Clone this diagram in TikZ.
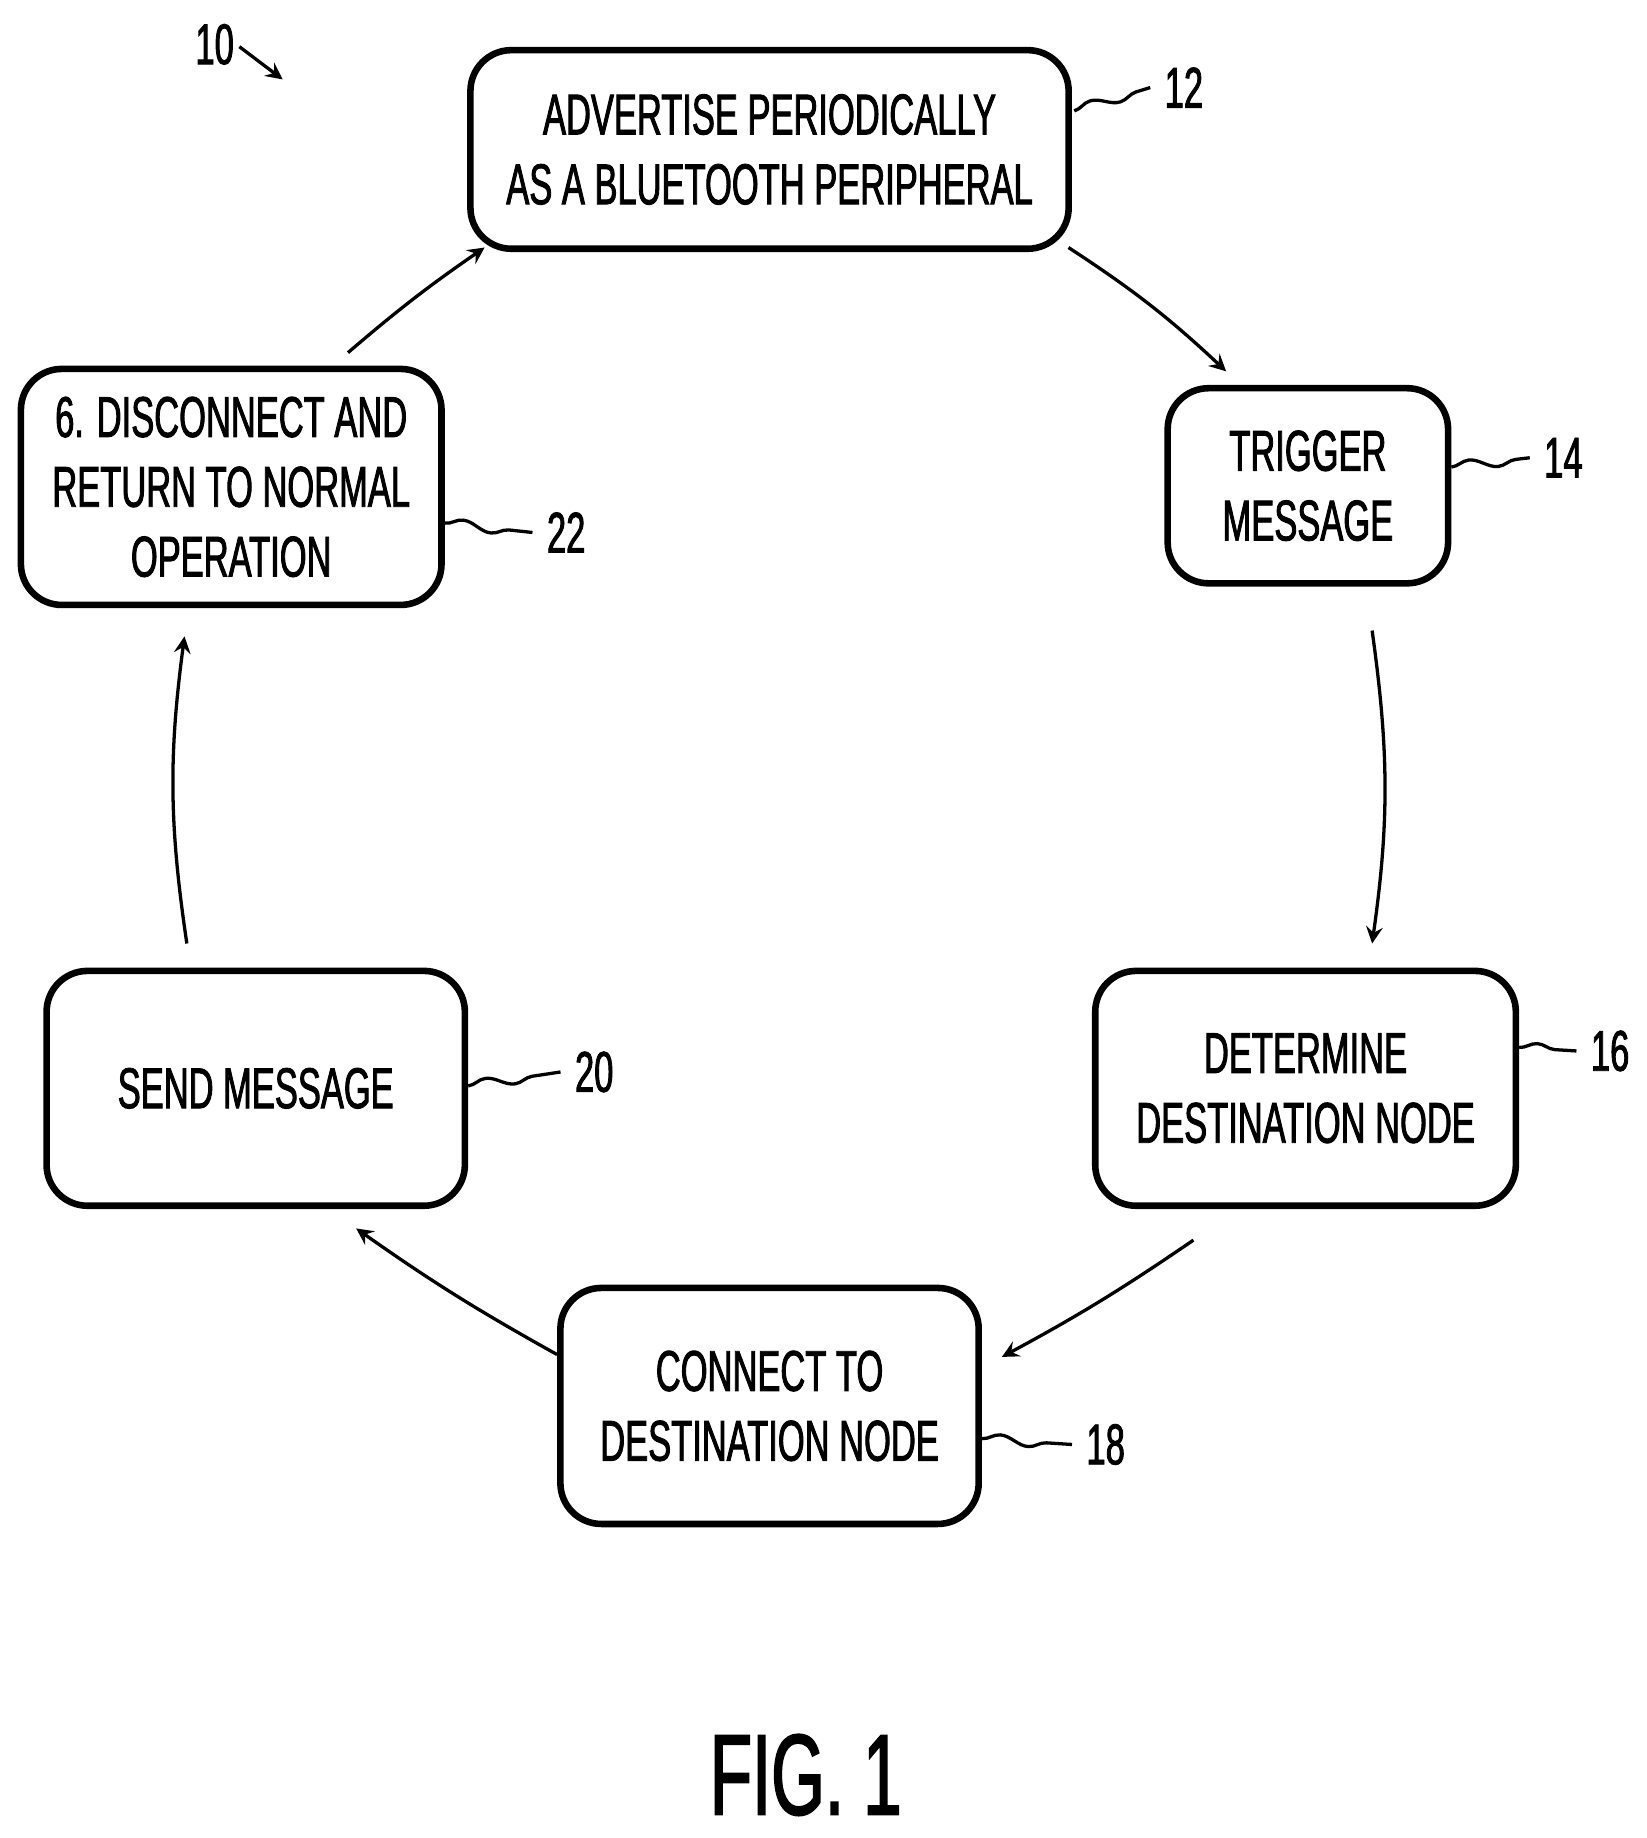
\documentclass[tikz,border=0pt]{standalone}
\usepackage{fontspec}
\setmainfont[FakeStretch=0.6,FakeBold=1.5]{Liberation Sans}
\usetikzlibrary{arrows,decorations.pathmorphing}
\tikzstyle{stage}=[rectangle, rounded corners=0.35cm, draw=black, line width=1.6pt, align=center, inner sep=0pt, font=\fontsize{14}{17}\selectfont]
\tikzstyle{arrow}=[line width=0.8pt,->,>=stealth]
\tikzstyle{lead}=[line width=0.8pt, decorate, decoration={snake, amplitude=1.2pt, segment length=14pt}]
\tikzstyle{ref}=[font=\fontsize{14}{17}\selectfont, anchor=west]
\begin{document}
\begin{tikzpicture}[x=0.01cm,y=-0.01cm]
\useasboundingbox (0,0) rectangle (1410,1574);
\node (adv) [stage, minimum width=5.12cm, minimum height=1.7cm] at (659,128) {ADVERTISE PERIODICALLY\\AS A BLUETOOTH PERIPHERAL};
\node (trig) [stage, minimum width=2.4cm, minimum height=1.67cm] at (1120,416) {TRIGGER\\MESSAGE};
\node (dest) [stage, minimum width=3.6cm, minimum height=2.01cm] at (1118,932) {DETERMINE\\DESTINATION NODE};
\node (conn) [stage, minimum width=3.58cm, minimum height=2.02cm] at (659,1204) {CONNECT TO\\DESTINATION NODE};
\node (send) [stage, minimum width=3.58cm, minimum height=2.01cm] at (219,932) {SEND MESSAGE};
\node (disc) [stage, minimum width=3.6cm, minimum height=2.02cm] at (198,417) {6. DISCONNECT AND\\RETURN TO NORMAL\\OPERATION};
% connectors
\coordinate (a1) at (915,212);
\coordinate (a2) at (1050,318);
\draw [arrow] (a1) to[bend left=5] (a2);
\draw [arrow] (1175,540) to[bend left=8] (1175,808);
\draw [arrow] (1022,1062) to[bend left=3] (858,1162);
\draw [arrow] (conn.west) ++(0,-44) to[bend left=3] (305,1052);
\draw [arrow] (160,808) to[bend left=8] (158,545);
\draw [arrow] (298,302) to[bend left=3] (415,212);
% reference numerals
\node (r10) [ref] at (155,38) {10};
\coordinate (t10) at (242,68);
\draw [arrow, decorate, decoration={snake, amplitude=1pt, segment length=12pt, post length=6pt}] (205,40) -- (t10);
\node (r12) [ref] at (985,75) {12};
\draw [lead] (adv.east) ++(2,-33) -- (r12.west);
\node (r14) [ref] at (1310,392) {14};
\draw [lead] (trig.east) ++(0,-16) -- (r14.west);
\node (r16) [ref] at (1350,900) {16};
\draw [lead] (dest.east) ++(0,-35) -- (r16.west);
\node (r18) [ref] at (918,1237) {18};
\draw [lead] (conn.east) ++(0,28) -- (r18.west);
\node (r20) [ref] at (480,918) {20};
\draw [lead] (send.east) ++(0,-2) -- (r20.west);
\node (r22) [ref] at (456,456) {22};
\draw [lead] (disc.east) ++(0,31) -- (r22.west);
\node (fig) [font=\fontsize{28}{32}\selectfont] at (690,1520) {FIG. 1};
\end{tikzpicture}
\end{document}
